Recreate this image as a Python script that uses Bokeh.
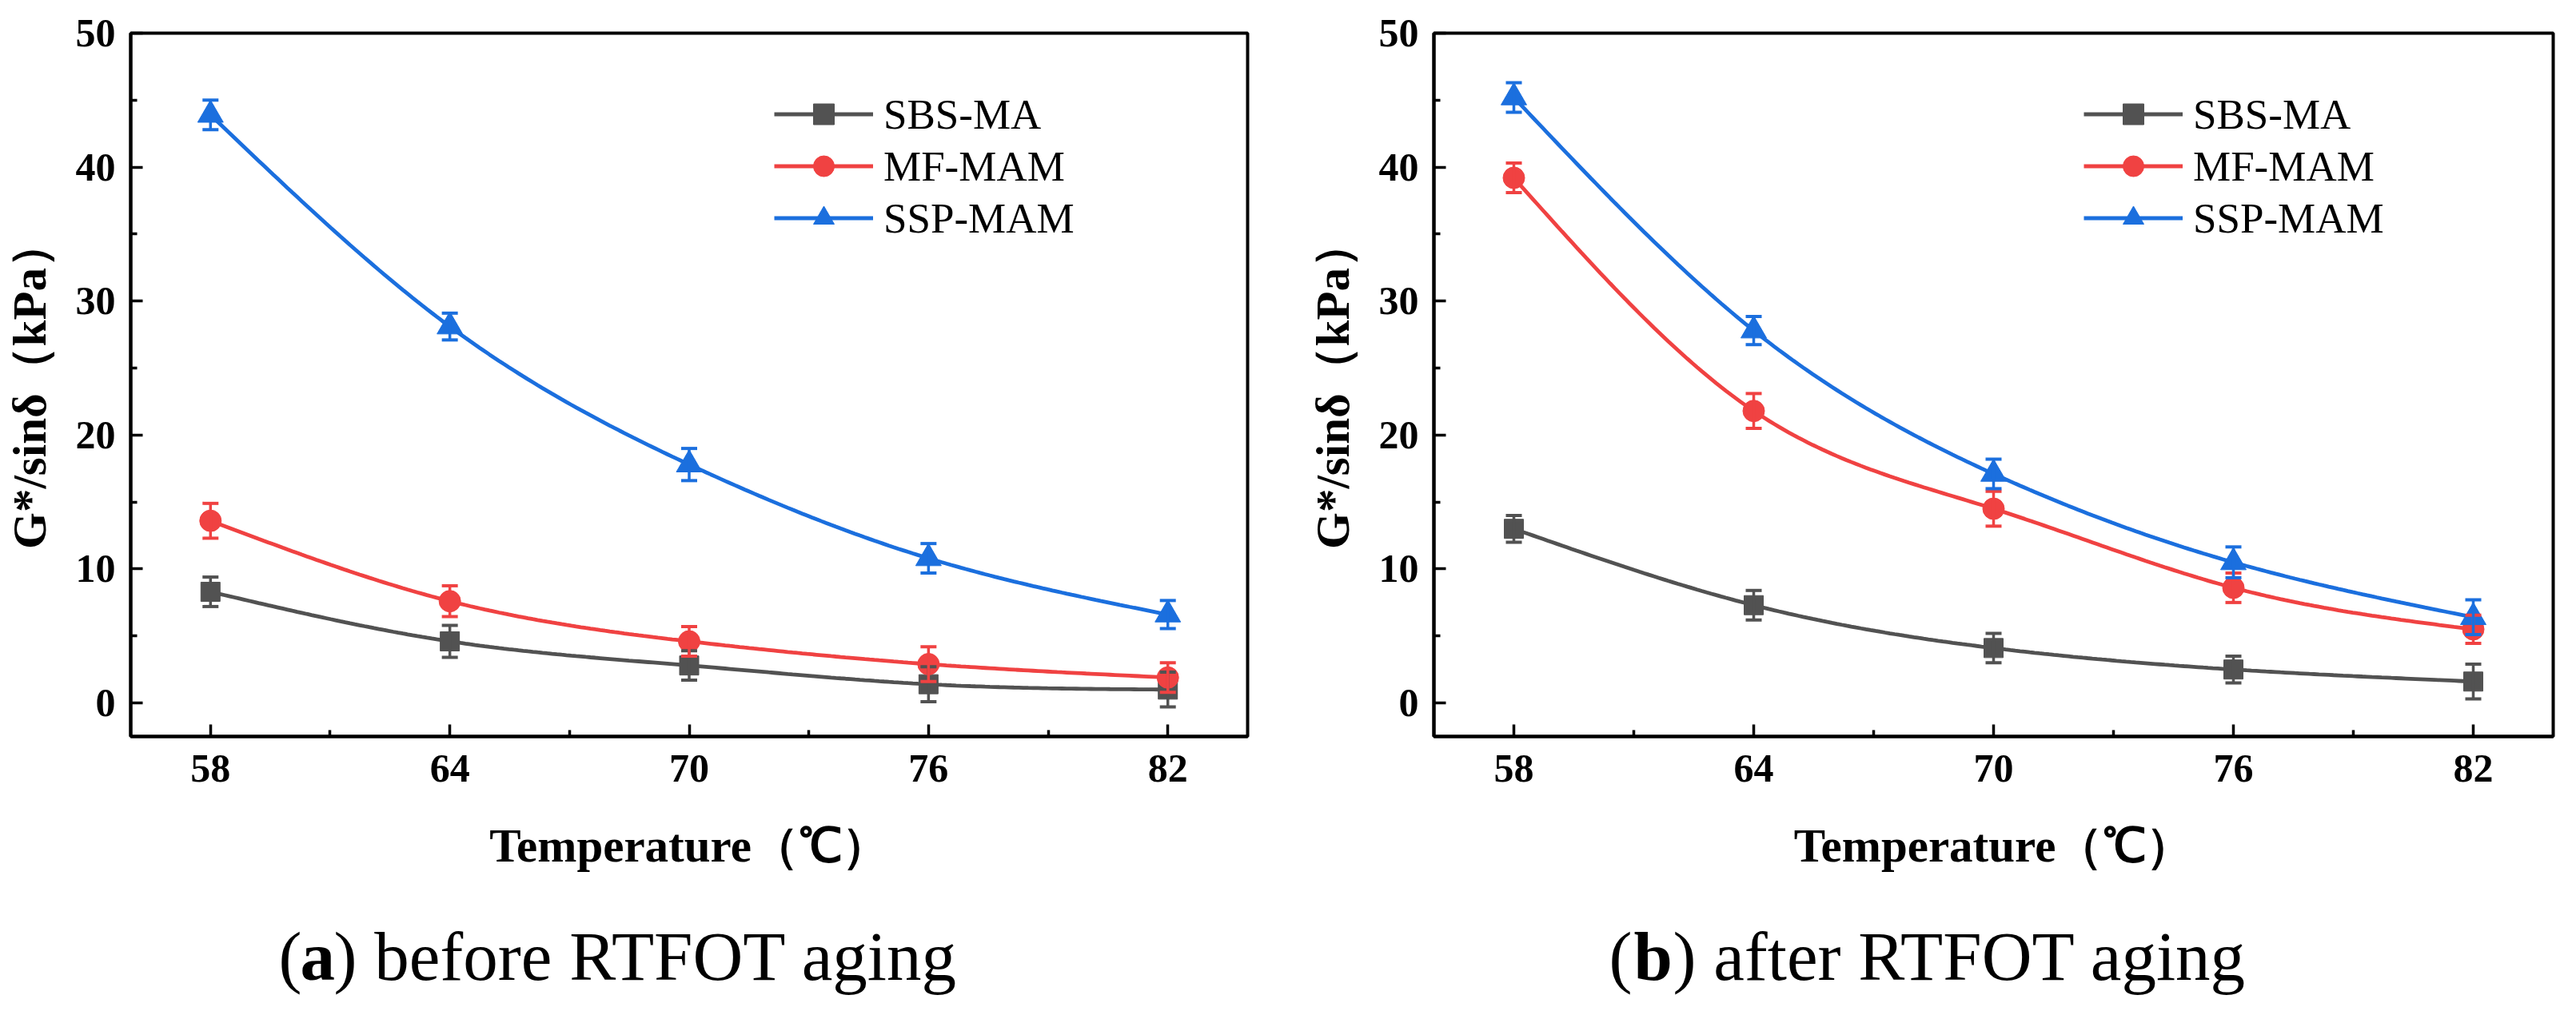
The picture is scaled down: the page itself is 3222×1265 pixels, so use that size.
import numpy as np
from bokeh.plotting import figure
from bokeh.models import (Range1d, FixedTicker, Whisker, TeeHead, ColumnDataSource,
                          Legend, LegendItem)
from bokeh.layouts import row, column
from bokeh.core.properties import value
from bokeh.embed import file_html
from bokeh.resources import INLINE

# ---------------- data ----------------
temps = [58, 64, 70, 76, 82]
series_names = ["SBS-MA", "MF-MAM", "SSP-MAM"]

# (a) before RTFOT aging
a_sbs = [8.3, 4.6, 2.8, 1.4, 1.0]
a_sbs_err = [1.1, 1.2, 1.1, 1.3, 1.3]
a_mf = [13.6, 7.6, 4.6, 2.9, 1.9]
a_mf_err = [1.3, 1.15, 1.1, 1.3, 1.1]
a_ssp = [43.9, 28.1, 17.8, 10.8, 6.6]
a_ssp_err = [1.1, 1.0, 1.2, 1.1, 1.05]

# (b) after RTFOT aging
b_sbs = [13.0, 7.3, 4.1, 2.5, 1.6]
b_sbs_err = [1.0, 1.1, 1.1, 1.0, 1.3]
b_mf = [39.2, 21.8, 14.5, 8.6, 5.5]
b_mf_err = [1.1, 1.3, 1.3, 1.1, 1.05]
b_ssp = [45.2, 27.8, 17.1, 10.5, 6.4]
b_ssp_err = [1.1, 1.05, 1.1, 1.15, 1.3]

x_ticks = [58, 64, 70, 76, 82]
x_minor = [61, 67, 73, 79]
y_ticks = [0, 10, 20, 30, 40, 50]
y_minor = [5, 15, 25, 35, 45]

x_title = "Temperature（℃）"
y_title = "G*/sinδ（kPa）"

caption_a = ["(", "a", ") before RTFOT aging"]
caption_b = ["(", "b", ") after RTFOT aging"]
caption_styles = ["normal", "bold", "normal"]

COLORS = ["#525252", "#F04242", "#1B6FDE"]
MARKERS = ["square", "circle", "triangle"]
MSIZES = [24, 27, 32]
SERIF = "Liberation Serif"

TOP = 41
FRAME_H = 880
MAIN_H = 1130
CAP_H = 1257 - MAIN_H


def natural_spline(xs, ys, n=200):
    xs = np.asarray(xs, float)
    ys = np.asarray(ys, float)
    k = len(xs)
    h = np.diff(xs)
    A = np.zeros((k, k))
    rhs = np.zeros(k)
    A[0, 0] = A[-1, -1] = 1.0
    for i in range(1, k - 1):
        A[i, i - 1] = h[i - 1]
        A[i, i] = 2 * (h[i - 1] + h[i])
        A[i, i + 1] = h[i]
        rhs[i] = 3 * ((ys[i + 1] - ys[i]) / h[i] - (ys[i] - ys[i - 1]) / h[i - 1])
    c = np.linalg.solve(A, rhs)
    b = (ys[1:] - ys[:-1]) / h - h * (2 * c[:-1] + c[1:]) / 3
    d = (c[1:] - c[:-1]) / (3 * h)
    xx = np.linspace(xs[0], xs[-1], n)
    idx = np.clip(np.searchsorted(xs, xx, side="right") - 1, 0, k - 2)
    dx = xx - xs[idx]
    yy = ys[idx] + b[idx] * dx + c[idx] * dx ** 2 + d[idx] * dx ** 3
    return xx, yy


def make_panel(series, errs, width, bl, br, legend_loc):
    p = figure(width=width, height=MAIN_H, output_backend="svg", toolbar_location=None,
               x_range=Range1d(56, 84), y_range=Range1d(-2.5, 50), title=None,
               min_border_left=bl, min_border_right=br,
               min_border_top=TOP, min_border_bottom=MAIN_H - TOP - FRAME_H)
    p.background_fill_color = "white"
    p.border_fill_color = "white"
    p.outline_line_color = "black"
    p.outline_line_width = 4
    p.xgrid.grid_line_color = None
    p.ygrid.grid_line_color = None

    p.xaxis.ticker = FixedTicker(ticks=x_ticks, minor_ticks=x_minor)
    p.yaxis.ticker = FixedTicker(ticks=y_ticks, minor_ticks=y_minor)
    for ax in (p.xaxis, p.yaxis):
        ax.axis_line_width = 4
        ax.axis_line_color = "black"
        ax.major_tick_in = 15
        ax.major_tick_out = 0
        ax.minor_tick_in = 8
        ax.minor_tick_out = 0
        ax.major_tick_line_width = 3.5
        ax.minor_tick_line_width = 3.5
        ax.major_tick_line_color = "black"
        ax.minor_tick_line_color = "black"
        ax.major_label_text_font = SERIF
        ax.major_label_text_font_style = "bold"
        ax.major_label_text_font_size = "50px"
        ax.major_label_text_color = "black"
        ax.axis_label_text_font = SERIF
        ax.axis_label_text_font_style = "bold"
        ax.axis_label_text_font_size = "59px"
        ax.axis_label_text_color = "black"
    p.xaxis.axis_label = x_title
    p.yaxis.axis_label = y_title
    p.xaxis.major_label_standoff = 23
    p.yaxis.major_label_standoff = 19
    p.xaxis.axis_label_standoff = 44
    p.yaxis.axis_label_standoff = 22

    items = []
    for name, ys, col, mk, ms in zip(series_names, series, COLORS, MARKERS, MSIZES):
        sx, sy = natural_spline(temps, ys)
        ln = p.line(sx, sy, line_color=col, line_width=4.8)
        src = ColumnDataSource(dict(x=temps, y=ys))
        sc = p.scatter("x", "y", source=src, marker=mk, size=ms,
                       fill_color=col, line_color=col, line_width=1)
        items.append(LegendItem(label=name, renderers=[ln, sc]))

    for ys, es, col in zip(series, errs, COLORS):
        src = ColumnDataSource(dict(x=temps,
                                    upper=[v + e for v, e in zip(ys, es)],
                                    lower=[v - e for v, e in zip(ys, es)]))
        w = Whisker(base="x", upper="upper", lower="lower", source=src,
                    line_color=col, line_width=3.5, level="annotation",
                    upper_head=TeeHead(size=20, line_color=col, line_width=4),
                    lower_head=TeeHead(size=20, line_color=col, line_width=4))
        p.add_layout(w)

    leg = Legend(items=items, location=legend_loc, glyph_width=124, glyph_height=65,
                 label_standoff=13, spacing=0, padding=0, margin=0,
                 border_line_color=None, background_fill_alpha=0,
                 label_text_font=SERIF, label_text_font_size="53px",
                 label_text_color="black")
    p.add_layout(leg)
    return p


def make_caption(width, parts, xs):
    c = figure(width=width, height=CAP_H, output_backend="svg", toolbar_location=None,
               x_range=Range1d(0, width), y_range=Range1d(0, CAP_H), title=None,
               min_border=0, x_axis_location=None, y_axis_location=None)
    c.outline_line_color = None
    c.background_fill_color = "white"
    c.border_fill_color = "white"
    c.xgrid.grid_line_color = None
    c.ygrid.grid_line_color = None
    for txt, style, x in zip(parts, caption_styles, xs):
        c.text(x=[x], y=[61], text=[txt], text_font=value(SERIF),
               text_font_style=style, text_font_size=value("87px"),
               text_align="left", text_baseline="alphabetic", text_color="black")
    return c


p1 = make_panel([a_sbs, a_mf, a_ssp], [a_sbs_err, a_mf_err, a_ssp_err],
                1611, 160, 51, (805, 616))
p2 = make_panel([b_sbs, b_mf, b_ssp], [b_sbs_err, b_mf_err, b_ssp_err],
                1603, 182, 21, (813, 616))
c1 = make_caption(1611, caption_a, [348, 375, 417])
c2 = make_caption(1603, caption_b, [401, 432, 481])

layout = column(row(p1, p2), row(c1, c2))
open("out.html", "w").write(file_html(layout, INLINE))
